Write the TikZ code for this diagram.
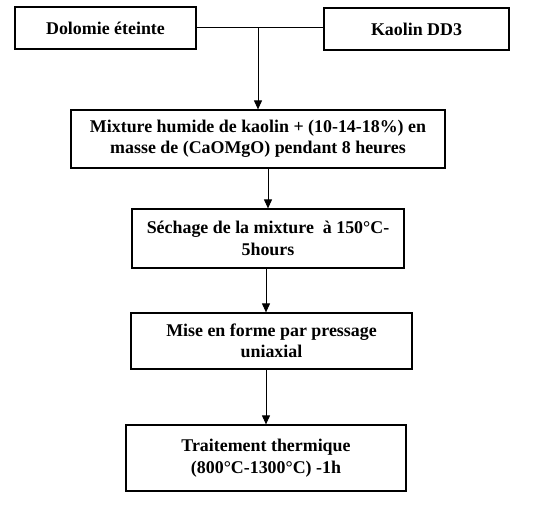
\documentclass[tikz,border=0pt]{standalone}
\usepackage{fontspec}
\setmainfont{Liberation Serif}
\usetikzlibrary{arrows.meta}

\begin{document}
\begin{tikzpicture}[x=1pt, y=-1pt, >={Triangle[length=9pt,width=8pt]},
	box/.style={draw, line width=1.2pt, align=center, inner sep=0pt,
		font=\fontsize{17.9}{21.5}\selectfont\bfseries},
	flow/.style={->, line width=1pt}]
			\useasboundingbox (0,0) rectangle (541,521);

			% Make nodes
			\node[box, minimum width=181pt, minimum height=42pt] (dolomie) at (105.5,28) {Dolomie éteinte};
			\node[box, minimum width=185pt, minimum height=42pt] (kaolin) at (416.5,29) {Kaolin DD3};
			\node[box, minimum width=374pt, minimum height=58pt] (mixture) at (258,139)
				{Mixture humide de kaolin + (10-14-18\%) en\\masse de (CaOMgO) pendant 8 heures};
			\node[box, minimum width=272pt, minimum height=59pt] (sechage) at (268,238.5)
				{Séchage de la mixture \ à 150°C-\\5hours};
			\node[box, minimum width=281pt, minimum height=56pt] (mise) at (271.5,341)
				{Mise en forme par pressage\\uniaxial};
			\node[box, minimum width=280pt, minimum height=66pt] (traitement) at (266,458)
				{Traitement thermique\\(800°C-1300°C) -1h};

			% Make arrows
			\coordinate (join) at (mixture.north |- dolomie.east);
			\draw[line width=1pt] (dolomie.east) -- (kaolin.west |- dolomie.east);
			\draw[flow] (join) -- (mixture.north);
			\draw[flow] (mixture.south -| sechage.north) -- (sechage.north);
			\draw[flow] (sechage.south -| 266,0) -- (mise.north -| 266,0);
			\draw[flow] (mise.south -| traitement.north) -- (traitement.north);
		\end{tikzpicture}
\end{document}
